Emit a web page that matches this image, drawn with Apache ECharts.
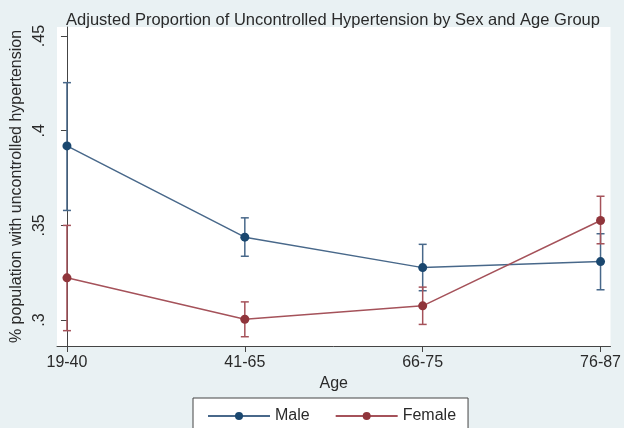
<!DOCTYPE html>
<html>
<head>
<meta charset="utf-8">
<script src="https://cdn.jsdelivr.net/npm/echarts@6/dist/echarts.min.js"></script>
<style>
html,body{margin:0;padding:0;background:#e9f1f3;}
#chart{width:624px;height:428px;}
</style>
</head>
<body>
<div id="chart"></div>
<script>
var categories = ['19-40', '41-65', '66-75', '76-87'];
var maleValues = [0.392, 0.3438, 0.3277, 0.3309];
var maleLow = [0.3579, 0.3337, 0.3155, 0.3160];
var maleHigh = [0.4254, 0.3540, 0.3400, 0.3456];
var femaleValues = [0.3223, 0.3004, 0.3075, 0.3526];
var femaleLow = [0.2944, 0.2912, 0.2977, 0.3403];
var femaleHigh = [0.3500, 0.3096, 0.3174, 0.3654];
var yTickValues = [0.3, 0.35, 0.4, 0.45];
var yTickLabels = ['.3', '.35', '.4', '.45'];

var MALE = '#1a476f', MALE_LINE = '#48688a';
var FEMALE = '#90353b', FEMALE_LINE = '#a5525a';
var FONT = 'Liberation Sans, Arial, sans-serif';
var TXT = '#2a2a2a';

function pts(vals) { return vals.map(function (v, i) { return [i, v]; }); }
function ci(lo, hi) { return lo.map(function (v, i) { return [i, v, hi[i]]; }); }

function errRender(color) {
  return function (params, api) {
    var x = api.value(0);
    var lo = api.coord([x, api.value(1)]);
    var hi = api.coord([x, api.value(2)]);
    var hw = 4;
    var st = { stroke: color, lineWidth: 1.5 };
    return {
      type: 'group',
      children: [
        { type: 'line', shape: { x1: lo[0], y1: lo[1], x2: hi[0], y2: hi[1] }, style: st },
        { type: 'line', shape: { x1: lo[0] - hw, y1: lo[1], x2: lo[0] + hw, y2: lo[1] }, style: st },
        { type: 'line', shape: { x1: hi[0] - hw, y1: hi[1], x2: hi[0] + hw, y2: hi[1] }, style: st }
      ]
    };
  };
}

var chart = echarts.init(document.getElementById('chart'));
chart.setOption({
  backgroundColor: '#e9f1f3',
  animation: false,
  textStyle: { fontFamily: FONT },
  title: {
    text: 'Adjusted Proportion of Uncontrolled Hypertension by Sex and Age Group',
    left: 328, top: 7, textAlign: 'center',
    textStyle: { fontSize: 16.5, fontWeight: 'normal', color: TXT, fontFamily: FONT }
  },
  grid: {
    left: 57, right: 11, top: 27, bottom: 82,
    show: true, backgroundColor: '#ffffff', borderWidth: 0
  },
  legend: {
    left: 193, top: 398,
    data: ['Male', 'Female'],
    itemWidth: 62, itemHeight: 10, itemGap: 25,
    backgroundColor: '#ffffff', borderColor: '#444', borderWidth: 1,
    padding: [10, 12, 20, 14],
    textStyle: { fontSize: 16, color: TXT, fontFamily: FONT }
  },
  xAxis: {
    type: 'value', min: -0.056, max: 3.056,
    name: 'Age', nameLocation: 'middle', nameGap: 27,
    nameTextStyle: { fontSize: 16, color: TXT },
    axisLine: { show: true, lineStyle: { color: '#444', width: 1 } },
    axisTick: { show: true, customValues: [0, 1, 2, 3], length: 6, lineStyle: { color: '#444' } },
    axisLabel: {
      customValues: [0, 1, 2, 3], fontSize: 16, color: TXT, margin: 9,
      formatter: function (v) { return categories[Math.round(v)]; }
    },
    splitLine: { show: false }
  },
  yAxis: {
    type: 'value', min: 0.2863, max: 0.4548,
    name: '% population with uncontrolled hypertension', nameLocation: 'middle', nameGap: 30,
    nameTextStyle: { fontSize: 16, color: TXT },
    axisLine: { show: true, lineStyle: { color: '#444', width: 1 } },
    axisTick: { show: true, customValues: yTickValues, length: 6, lineStyle: { color: '#444' } },
    axisLabel: {
      customValues: yTickValues, rotate: 90, fontSize: 16, color: TXT, margin: 9,
      formatter: function (v) {
        for (var i = 0; i < yTickValues.length; i++) {
          if (Math.abs(v - yTickValues[i]) < 1e-6) return yTickLabels[i];
        }
        return '';
      }
    },
    splitLine: { show: false }
  },
  series: [
    {
      name: 'Male', type: 'line', data: pts(maleValues),
      symbol: 'circle', symbolSize: 9,
      itemStyle: { color: MALE },
      lineStyle: { color: MALE_LINE, width: 1.5 },
      z: 3
    },
    {
      name: 'Female', type: 'line', data: pts(femaleValues),
      symbol: 'circle', symbolSize: 9,
      itemStyle: { color: FEMALE },
      lineStyle: { color: FEMALE_LINE, width: 1.5 },
      z: 3
    },
    {
      name: 'MaleCI', type: 'custom', data: ci(maleLow, maleHigh),
      renderItem: errRender(MALE_LINE), z: 2, silent: true
    },
    {
      name: 'FemaleCI', type: 'custom', data: ci(femaleLow, femaleHigh),
      renderItem: errRender(FEMALE_LINE), z: 2, silent: true
    }
  ]
});
</script>
</body>
</html>
